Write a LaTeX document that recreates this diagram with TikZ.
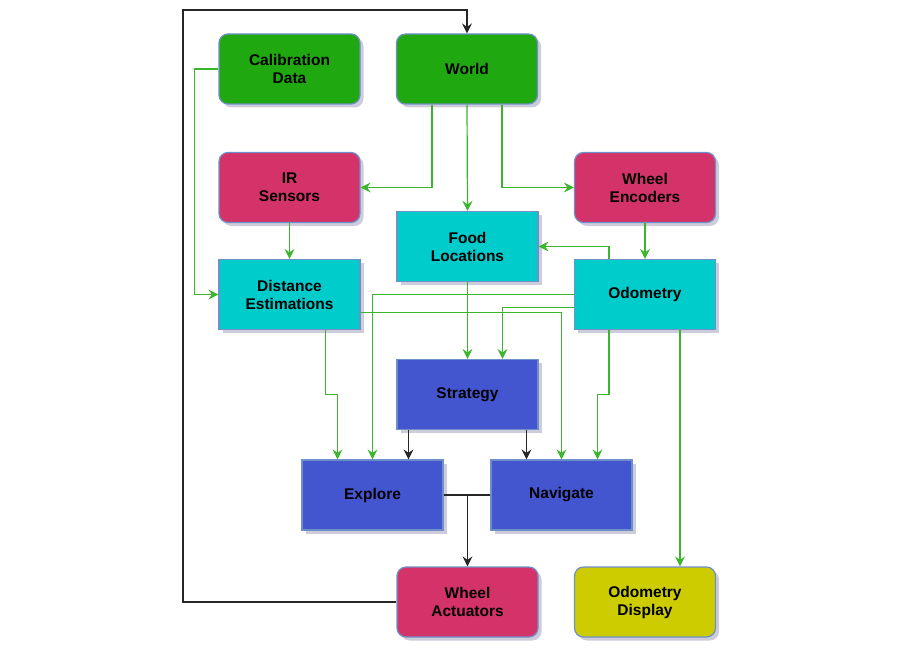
\documentclass[tikz,border=0pt]{standalone}
\usepackage{fontspec}
\setmainfont{Liberation Sans}
\usetikzlibrary{arrows.meta,shadows,calc}
\definecolor{cgreen}{HTML}{1FA80F}
\definecolor{cpink}{HTML}{D4336A}
\definecolor{ccyan}{HTML}{00CCCC}
\definecolor{cblue}{HTML}{4456CF}
\definecolor{cyell}{HTML}{CCCC00}
\definecolor{cline}{HTML}{3AB52C}
\definecolor{cbord}{HTML}{6F8FC8}
\definecolor{cshad}{HTML}{9A9AB8}
\begin{document}
\begin{tikzpicture}[x=1pt,y=-1pt,
  box/.style={draw=cbord,line width=1.2pt,minimum width=141pt,minimum height=70pt,
    align=center,font=\fontsize{15.5}{18}\selectfont\bfseries,text=black,
    drop shadow={shadow xshift=3.5pt,shadow yshift=-3.5pt,fill=cshad,opacity=0.5}},
  rbox/.style={box,rounded corners=9pt},
  sbox/.style={box},
  gl/.style={draw=cline,line width=1.2pt,-{Stealth[length=10pt,width=10pt,inset=3.5pt]}},
  bl/.style={draw=black!85,line width=1.2pt,-{Stealth[length=10pt,width=10pt,inset=3.5pt]}},
  bn/.style={draw=black!85,line width=1.2pt}]
\useasboundingbox (0,0) rectangle (900,650);
\node[rbox,fill=cgreen] (cal) at (289.5,69) {Calibration\\Data};
\node[rbox,fill=cgreen] (world) at (467,69) {World};
\node[rbox,fill=cpink] (ir) at (289.5,187.5) {IR\\Sensors};
\node[rbox,fill=cpink] (we) at (645,187.5) {Wheel\\Encoders};
\node[sbox,fill=ccyan] (food) at (467.5,246.5) {Food\\Locations};
\node[sbox,fill=ccyan] (dist) at (289.5,294.5) {Distance\\Estimations};
\node[sbox,fill=ccyan] (odo) at (645,294.5) {Odometry};
\node[sbox,fill=cblue] (strat) at (467.5,394.5) {Strategy};
\node[sbox,fill=cblue] (expl) at (372.5,495) {Explore};
\node[sbox,fill=cblue] (nav) at (561.5,495) {Navigate};
\node[rbox,fill=cpink] (wa) at (467.5,602) {Wheel\\Actuators};
\node[rbox,fill=cyell] (od) at (645,602) {Odometry\\Display};
\coordinate (loop) at (183,10);
% green connectors
\draw[gl] ([xshift=-35pt]world.south) |- (ir.east);
\draw[gl] (world.south) -- (food.north);
\draw[gl] ([xshift=35pt]world.south) |- (we.west);
\draw[gl] (cal.west) -- ++(-24,0) |- (dist.west);
\draw[gl] (ir.south) -- (dist.north);
\draw[gl] (we.south) -- (odo.north);
\draw[gl] ([xshift=-36pt]odo.north) |- (food.east);
\draw[gl] (food.south) -- (strat.north);
\draw[gl] ([yshift=-13pt]odo.west) -| ([xshift=35pt]strat.north);
\draw[gl] (odo.west) -| (expl.north);
\draw[gl] ([yshift=-18pt]dist.east) -| (nav.north);
\draw[gl] ([xshift=36pt]dist.south) -- ([xshift=36pt]dist.south |- strat.center) -| ([xshift=-35pt]expl.north);
\draw[gl] ([xshift=-36pt]odo.south) -- ([xshift=-36pt]odo.south |- strat.center) -| ([xshift=36pt]nav.north);
\draw[gl] ([xshift=35pt]odo.south) -- ([xshift=35pt]odo.south |- od.north);
% black connectors
\draw[bl] ([xshift=-59pt]strat.south) -- ([xshift=-59pt]strat.south |- expl.north);
\draw[bl] ([xshift=59pt]strat.south) -- ([xshift=59pt]strat.south |- nav.north);
\draw[bl] (expl.east) -| (wa.north);
\draw[bn] (nav.west) -- (expl.east -| wa.north);
\draw[bl] (wa.west) -| (loop) -| (world.north);
\end{tikzpicture}
\end{document}
